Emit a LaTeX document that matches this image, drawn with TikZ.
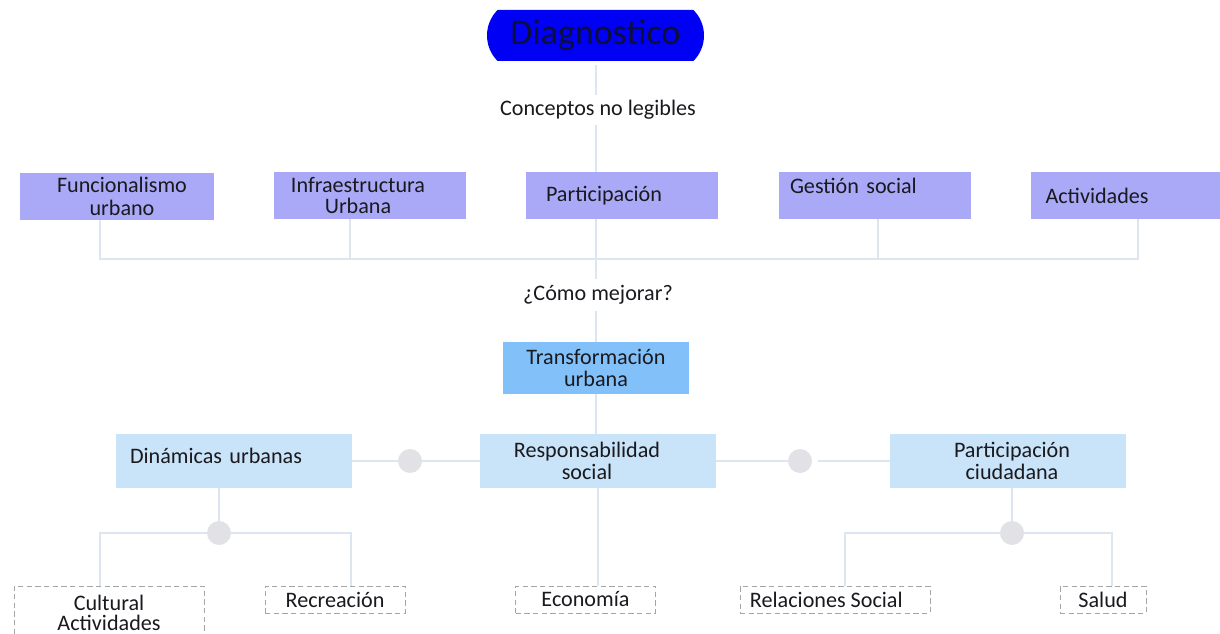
\documentclass[tikz,border=0pt]{standalone}
\usepackage{fontspec}
\setmainfont{Carlito}
\usepackage{xcolor}
\definecolor{ColTop}{RGB}{169,169,248}
\definecolor{ColMid}{RGB}{201,227,249}
\definecolor{ColTr}{RGB}{130,192,250}
\definecolor{ColDiag}{RGB}{0,0,245}
\definecolor{ColNavy}{RGB}{14,14,60}
\definecolor{ColLine}{RGB}{220,230,240}
\definecolor{ColDot}{RGB}{226,226,230}
\definecolor{ColDash}{RGB}{165,165,165}
\definecolor{ColText}{RGB}{25,25,30}
\usepackage{tikz}
\usetikzlibrary{shapes.misc}
\tikzstyle{Box}=[rectangle,inner sep=0pt,align=center,text=ColText,
font=\fontsize{16.6}{17}\selectfont]
\tikzstyle{TopBox}=[Box,fill=ColTop,minimum width=144pt,minimum height=35.25pt]
\tikzstyle{MidBox}=[Box,fill=ColMid,minimum width=177pt,minimum height=40.5pt]
\tikzstyle{LeafBox}=[Box,draw=ColDash,dash pattern=on 4pt off 2.5pt,fill=white,
minimum height=20.25pt,line width=0.6pt]
\tikzstyle{Edge}=[draw=ColLine,line width=0.9pt]
\tikzstyle{Dot}=[circle,fill=ColDot,inner sep=0pt,minimum size=18pt]
\tikzstyle{Label}=[Box]

\begin{document}
\begin{tikzpicture}[x=0.75pt,y=-0.75pt]
        \useasboundingbox (0,0) rectangle (1220,634);
        \node[rounded rectangle,rounded rectangle arc length=90,fill=ColDiag,
                minimum width=162.75pt,minimum height=38.25pt,inner sep=0pt,
                text=ColNavy,font=\fontsize{27}{27}\selectfont](diag)at(595.5,35.5)
                {Diagnostico};
        \node[Label](conc)at(598,110){Conceptos no legibles};
        \node[TopBox,minimum width=145.5pt](fun)at(117,196.5)
                {\hspace*{7.5pt}Funcionalismo\\\hspace*{7.5pt}urbano};
        \node[TopBox](inf)at(370,195.5)
                {Infraestructura\hspace*{18pt}\\[-1pt]Urbana\hspace*{18pt}};
        \node[TopBox,align=left,inner xsep=15pt,text width=114pt](part)at(622,195.5)
                {Participación};
        \node[TopBox,align=left,inner xsep=8.25pt,text width=127.5pt,
                text height=11pt,text depth=14pt](gest)at(875,195.5){Gestión social};
        \node[TopBox,align=left,inner xsep=11.25pt,text width=121.5pt](act)at(1126.5,195.5)
                {Actividades};
        \node[Label](como)at(598,295){¿Cómo mejorar?};
        \node[Box,fill=ColTr,minimum width=139.5pt,minimum height=39pt](tr)at(596,368)
                {Transformación\\urbana};
        \node[MidBox,align=left,inner xsep=10.5pt,text width=156pt,
                text height=11pt,text depth=7pt](din)at(234,461){Dinámicas urbanas};
        \node[MidBox](resp)at(598,461)
                {Responsabilidad\hspace*{16.5pt}\\social\hspace*{16.5pt}};
        \node[MidBox](pc)at(1008,461)
                {\hspace*{6pt}Participación\\[-1pt]\hspace*{6pt}ciudadana};
        \node[Dot](d1)at(410,461){};
        \node[Dot](d2)at(800,461){};
        \node[Dot](d3)at(219,533){};
        \node[Dot](d4)at(1012,533){};
        \node[LeafBox,minimum width=142.5pt,minimum height=40.5pt](cul)at(109,613)
                {Cultural\\[-2pt]Actividades};
        \node[LeafBox,minimum width=105pt](rec)at(335,599.5){Recreación};
        \node[LeafBox,minimum width=105pt](eco)at(585.5,599.5){Economía};
        \node[LeafBox,minimum width=142.5pt](rel)at(835,599.5)
                {Relaciones Social\hspace*{13pt}};
        \node[LeafBox,minimum width=64.5pt](sal)at(1103,599.5){Salud};
        \coordinate(b1)at(100,259);
        \coordinate(b2)at(350,259);
        \coordinate(b3)at(596,259);
        \coordinate(b4)at(878,259);
        \coordinate(b5)at(1138,259);
        \coordinate(l1)at(100,533);
        \coordinate(l2)at(351,533);
        \coordinate(r1)at(845,533);
        \coordinate(r2)at(1112,533);
        \draw[Edge,shorten <=3pt,shorten >=4pt](diag.south-|b3)--(conc.north-|b3);
        \draw[Edge,shorten <=4pt](conc.south-|b3)--(part.north-|b3);
        \draw[Edge](fun.south-|b1)--(b1)--(b5)--(act.south-|b5);
        \draw[Edge](inf.south-|b2)--(b2);
        \draw[Edge](gest.south-|b4)--(b4);
        \draw[Edge,shorten >=5pt](part.south-|b3)--(como.north-|b3);
        \draw[Edge,shorten <=5pt](como.south-|b3)--(tr.north-|b3);
        \draw[Edge](tr.south-|b3)--(resp.north-|b3);
        \draw[Edge](din)--(d1)--(resp);
        \draw[Edge,shorten <=4pt](resp)--(d2)--(pc);
        \draw[Edge](din.south-|d3)--(d3);
        \draw[Edge](cul.north-|l1)--(l1)--(d3)--(l2)--(rec.north-|l2);
        \draw[Edge](resp.south)--(resp.south|-eco.north);
        \draw[Edge](pc.south-|d4)--(d4);
        \draw[Edge](rel.north-|r1)--(r1)--(d4)--(r2)--(sal.north-|r2);
    \end{tikzpicture}
\end{document}
